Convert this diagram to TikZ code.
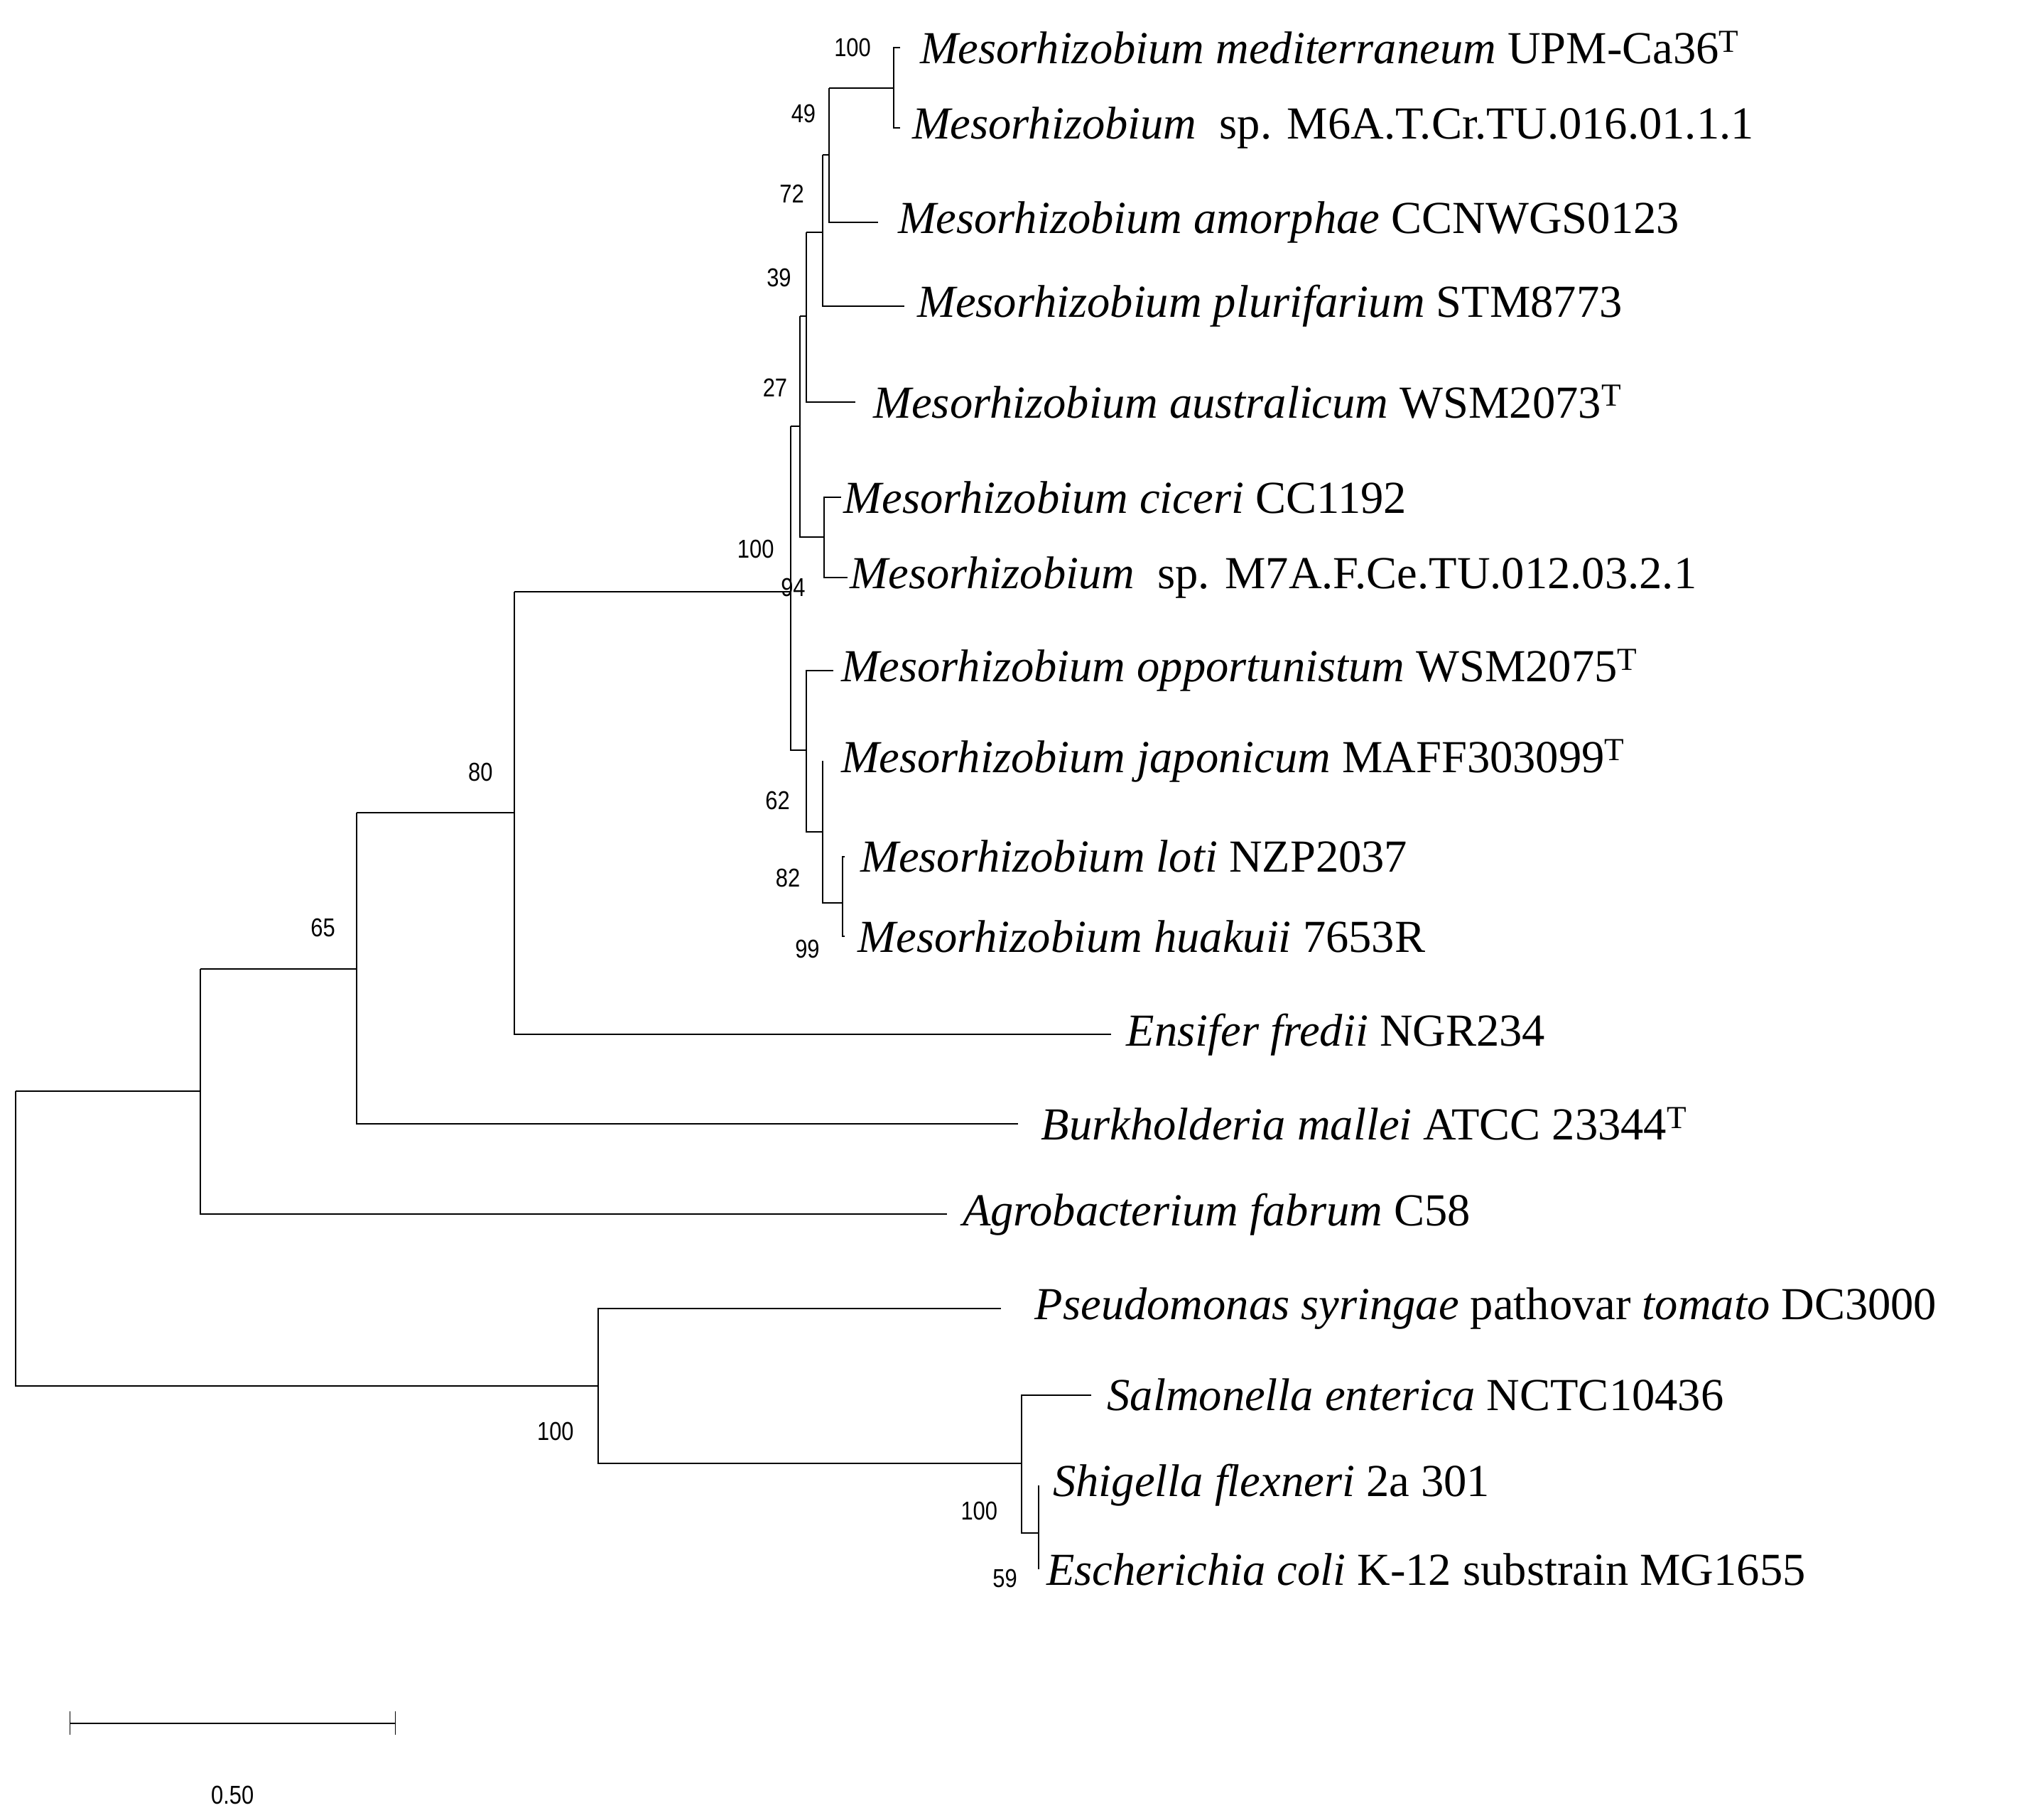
\documentclass[tikz,border=0pt]{standalone}
\usepackage{fontspec}
\setmainfont{Liberation Serif}
\setsansfont{Liberation Sans}
\begin{document}
\begin{tikzpicture}[x=1pt,y=-1pt,
  leaf/.style={anchor=west,inner sep=0pt,font=\fontsize{35.5}{35.5}\selectfont},
  bs/.style={inner sep=0pt,font=\sffamily\fontsize{20}{20}\selectfont,xscale=0.85},
  br/.style={line width=1.1pt}]
\useasboundingbox (0,0) rectangle (1563,1409);
% leaves
\node[leaf] (l1) at (712,37) {\textit{Mesorhizobium mediterraneum} UPM-Ca36\textsuperscript{T}};
\node[leaf] (l2) at (706,99) {\textit{Mesorhizobium}~~sp. M6A.T.Cr.TU.016.01.1.1};
\node[leaf] (l3) at (695,172) {\textit{Mesorhizobium amorphae} CCNWGS0123};
\node[leaf] (l4) at (710,237) {\textit{Mesorhizobium plurifarium} STM8773};
\node[leaf] (l5) at (676,311) {\textit{Mesorhizobium australicum} WSM2073\textsuperscript{T}};
\node[leaf] (l6) at (653,385) {\textit{Mesorhizobium ciceri} CC1192};
\node[leaf] (l7) at (658,447) {\textit{Mesorhizobium}~~sp. M7A.F.Ce.TU.012.03.2.1};
\node[leaf] (l8) at (651,519) {\textit{Mesorhizobium opportunistum} WSM2075\textsuperscript{T}};
\node[leaf] (l9) at (651,589) {\textit{Mesorhizobium japonicum} MAFF303099\textsuperscript{T}};
\node[leaf] (l10) at (666,663) {\textit{Mesorhizobium loti} NZP2037};
\node[leaf] (l11) at (664,725) {\textit{Mesorhizobium huakuii} 7653R};
\node[leaf] (l12) at (872,801) {\textit{Ensifer fredii} NGR234};
\node[leaf] (l13) at (806,870) {\textit{Burkholderia mallei} ATCC 23344\textsuperscript{T}};
\node[leaf] (l14) at (745,940) {\textit{Agrobacterium fabrum} C58};
\node[leaf] (l15) at (801,1013) {\textit{Pseudomonas syringae} pathovar \textit{tomato} DC3000};
\node[leaf] (l16) at (857,1080) {\textit{Salmonella enterica} NCTC10436};
\node[leaf] (l17) at (815,1150) {\textit{Shigella flexneri} 2a 301};
\node[leaf] (l18) at (810,1215) {\textit{Escherichia coli} K-12 substrain MG1655};
% internal node coordinates
\coordinate (nA) at (692,68);
\coordinate (nB) at (642,120);
\coordinate (nC) at (637,180);
\coordinate (nD) at (624,245);
\coordinate (nE) at (619,330);
\coordinate (nF) at (638,416);
\coordinate (nJ) at (652,699);
\coordinate (nI) at (637,644);
\coordinate (nH) at (624,581);
\coordinate (nR) at (612,458);
\coordinate (n80) at (398,629);
\coordinate (n65) at (276,750);
\coordinate (nG) at (155,845);
\coordinate (root) at (12,959);
\coordinate (nP) at (463,1073);
\coordinate (nS) at (791,1133);
\coordinate (nEc) at (804,1187);
% branches
\begin{scope}[br]
\draw ([xshift=-15pt]l1.west) -| (nA) |- ([xshift=-9pt]l2.west);
\draw (nA) -- (nA -| nB);
\draw (nA -| nB) -- (nB |- l3) -- ([xshift=-15pt]l3.west);
\draw (nB) -- (nB -| nC);
\draw (nB -| nC) -- (nC |- l4) -- ([xshift=-10pt]l4.west);
\draw (nC) -- (nC -| nD);
\draw (nC -| nD) -- (nD |- l5) -- ([xshift=-14pt]l5.west);
\draw (nD) -- (nD -| nE);
\draw (nD -| nE) -- (nE |- nF) -- (nF);
\draw ([xshift=-2pt]l6.west) -| (nF) |- ([xshift=-2pt]l7.west);
\draw (nE) -- (nE -| nR);
\draw (nE -| nR) -- (nR |- nH) -- (nH);
\draw ([xshift=-6pt]l8.west) -| (nH) |- (nI);
\draw ([xshift=-14pt]l9.west) -| (nI) |- (nJ);
\draw ([xshift=-12pt]l10.west) -| (nJ) |- ([xshift=-10pt]l11.west);
\draw (nR) -- (nR -| n80);
\draw (nR -| n80) -- (n80 |- l12) -- ([xshift=-12pt]l12.west);
\draw (n80) -- (n80 -| n65);
\draw (n80 -| n65) -- (n65 |- l13) -- ([xshift=-18pt]l13.west);
\draw (n65) -- (n65 -| nG);
\draw (n65 -| nG) -- (nG |- l14) -- ([xshift=-12pt]l14.west);
\draw (nG) -- (nG -| root);
\draw (nG -| root) -- (root |- nP) -- (nP);
\draw ([xshift=-26pt]l15.west) -| (nP) |- (nS);
\draw ([xshift=-12pt]l16.west) -| (nS) |- (nEc);
\draw ([xshift=-11pt]l17.west) -| (nEc) |- ([xshift=-6pt]l18.west);
\end{scope}
% bootstrap values
\node[bs] (b1) at (660,37) {100};
\node[bs] (b2) at (622,88) {49};
\node[bs] (b3) at (613,150) {72};
\node[bs] (b4) at (603,215) {39};
\node[bs] (b5) at (600,300) {27};
\node[bs] (b6) at (585,425) {100};
\node[bs] (b7) at (614,455) {94};
\node[bs] (b8) at (602,620) {62};
\node[bs] (b9) at (610,680) {82};
\node[bs] (b10) at (625,735) {99};
\node[bs] (b11) at (372,598) {80};
\node[bs] (b12) at (250,718) {65};
\node[bs] (b13) at (430,1108) {100};
\node[bs] (b14) at (758,1170) {100};
\node[bs] (b15) at (778,1222) {59};
% scale bar
\coordinate (s1) at (54,1334);
\coordinate (s2) at (306,1334);
\draw[br] (s1) -- (s2);
\draw (s1) ++(0,-9) -- ++(0,18);
\draw (s2) ++(0,-9) -- ++(0,18);
\node[bs] (sc) at (180,1390) {0.50};
\end{tikzpicture}
\end{document}
